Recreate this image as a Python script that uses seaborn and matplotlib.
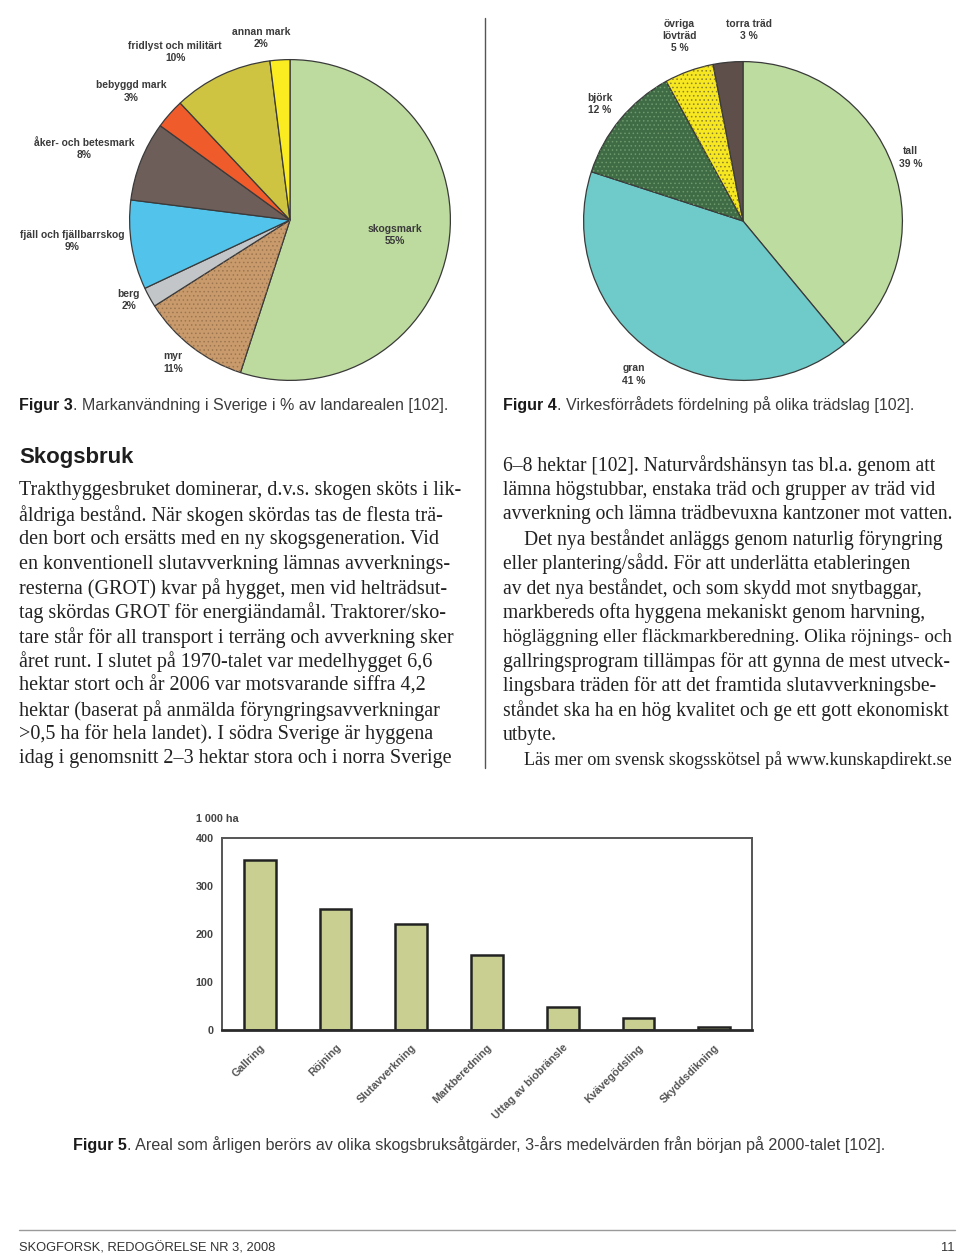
import matplotlib
matplotlib.use("Agg")
import matplotlib.pyplot as plt
import seaborn as sns
from matplotlib.lines import Line2D

# Figur 3 - markanvändning i Sverige (% av landarealen)
land_labels = ["skogsmark", "myr", "berg", "fjäll och fjällbarrskog",
               "åker- och betesmark", "bebyggd mark", "fridlyst och militärt", "annan mark"]
land_pct = [55, 11, 2, 9, 8, 3, 10, 2]

# Figur 4 - virkesförrådets fördelning på trädslag (%)
tree_labels = ["tall", "gran", "björk", "övriga\nlövträd", "torra träd"]
tree_pct = [39, 41, 12, 5, 3]

# Figur 5 - areal per år (1 000 ha)
measures = ["Gallring", "Röjning", "Slutavverkning", "Markberedning",
            "Uttag av biobränsle", "Kvävegödsling", "Skyddsdikning"]
area_kha = [355, 252, 220, 156, 48, 25, 6]
area_ticks = [0, 100, 200, 300, 400]

left_lines = [
    "Trakthyggesbruket dominerar, d.v.s. skogen sköts i lik-",
    "åldriga bestånd. När skogen skördas tas de flesta trä-",
    "den bort och ersätts med en ny skogsgeneration. Vid",
    "en konventionell slutavverkning lämnas avverknings-",
    "resterna (GROT) kvar på hygget, men vid helträdsut-",
    "tag skördas GROT för energiändamål. Traktorer/sko-",
    "tare står för all transport i terräng och avverkning sker",
    "året runt. I slutet på 1970-talet var medelhygget 6,6",
    "hektar stort och år 2006 var motsvarande siffra 4,2",
    "hektar (baserat på anmälda föryngringsavverkningar",
    ">0,5 ha för hela landet). I södra Sverige är hyggena",
    "idag i genomsnitt 2–3 hektar stora och i norra Sverige",
]
right_lines = [
    "6–8 hektar [102]. Naturvårdshänsyn tas bl.a. genom att",
    "lämna högstubbar, enstaka träd och grupper av träd vid",
    "avverkning och lämna trädbevuxna kantzoner mot vatten.",
    "Det nya beståndet anläggs genom naturlig föryngring",
    "eller plantering/sådd. För att underlätta etableringen",
    "av det nya beståndet, och som skydd mot snytbaggar,",
    "markbereds ofta hyggena mekaniskt genom harvning,",
    "högläggning eller fläckmarkberedning. Olika röjnings- och",
    "gallringsprogram tillämpas för att gynna de mest utveck-",
    "lingsbara träden för att det framtida slutavverkningsbe-",
    "ståndet ska ha en hög kvalitet och ge ett gott ekonomiskt",
    "utbyte.",
    "Läs mer om svensk skogsskötsel på www.kunskapdirekt.se",
]
right_indent = [3, 12]

sns.set_style("white")
SANS = ["Liberation Sans", "DejaVu Sans"]
SERIF = ["Liberation Serif", "DejaVu Serif"]
plt.rcParams["font.family"] = SANS
plt.rcParams["hatch.linewidth"] = 0.6

W, H = 960, 1260
fig = plt.figure(figsize=(W / 100, H / 100), dpi=100)
fig.patch.set_facecolor("white")
renderer = fig.canvas.get_renderer()


def fx(x):
    return x / W


def fy(y):
    return 1 - y / H


def add_ax(x, y, w, h):
    return fig.add_axes([fx(x), fy(y + h), w / W, h / H])


def draw_pie(cx, cy, r, values, labels, colors, hatches, hatch_cols, label_pos, sep):
    ax = add_ax(cx - r, cy - r, 2 * r, 2 * r)
    ax.pie(values, colors=colors, startangle=90, counterclock=False,
           wedgeprops=dict(edgecolor="#3a3a3a", linewidth=0.9))
    over, _ = ax.pie(values, colors=["none"] * len(values), startangle=90,
                     counterclock=False, hatch=hatches,
                     wedgeprops=dict(linewidth=0))
    for w, c in zip(over, hatch_cols):
        w.set_edgecolor(c)
        w.set_linewidth(0)
    ax.set_xlim(-1.01, 1.01)
    ax.set_ylim(-1.01, 1.01)
    ax.set_aspect("equal")
    for lab, v, (lx, ly) in zip(labels, values, label_pos):
        ax.text(lx, ly, f"{lab}\n{v}{sep}%", ha="center", va="center",
                fontsize=7.4, weight="bold", color="#3a3a3a", linespacing=1.3,
                clip_on=False, family=SANS)
    return ax


land_colors = ["#bddb9f", "#c99b6c", "#c3c6c9", "#52c4ec",
               "#6e5e59", "#ef5b2b", "#cfc441", "#faec20"]
land_hatch = ["", "....", "", "", "", "", "", ""]
land_hcol = ["none", "#9c7650", "none", "none", "none", "none", "none", "none"]
land_lpos = [(0.654, -0.093), (-0.728, -0.889), (-1.006, -0.50), (-1.358, -0.13),
             (-1.284, 0.444), (-0.988, 0.802), (-0.716, 1.049), (-0.179, 1.136)]
draw_pie(290, 220, 162, land_pct, land_labels, land_colors, land_hatch,
         land_hcol, land_lpos, "")

tree_colors = ["#bddca0", "#6ecbc9", "#3f6b45", "#f7e720", "#5e4f4a"]
tree_hatch = ["", "", "....", "....", ""]
tree_hcol = ["none", "none", "#6f9a6e", "#8a8030", "none"]
tree_lpos = [(1.05, 0.398), (-0.683, -0.963), (-0.90, 0.733),
             (-0.398, 1.161), (0.037, 1.199)]
draw_pie(743, 221, 161, tree_pct, tree_labels, tree_colors, tree_hatch,
         tree_hcol, tree_lpos, " ")

# bar chart
bx = add_ax(222, 838, 530, 192)
sns.barplot(x=measures, y=area_kha, color="#c9cf90", saturation=1,
            edgecolor="#222222", linewidth=1.8, width=0.42, ax=bx)
bx.set_ylim(0, 400)
bx.set_xlim(-0.5, len(measures) - 0.5)
bx.set_yticks(area_ticks)
bx.set_yticklabels([str(t) for t in area_ticks], fontsize=7.8, weight="bold",
                   color="#444444")
bx.set_xticks(range(len(measures)))
bx.set_xticklabels(measures, rotation=45, ha="right", rotation_mode="anchor",
                   fontsize=7.8, weight="bold", color="#555555")
bx.tick_params(axis="x", length=0, pad=9)
bx.tick_params(axis="y", length=0, pad=6)
bx.set_xticks([i + 0.5 for i in range(-1, len(measures))], minor=True)
bx.tick_params(axis="x", which="minor", length=3, color="#999999", direction="out")
bx.set_xlabel("")
bx.set_ylabel("")
for side in ["top", "right", "left"]:
    bx.spines[side].set_visible(True)
    bx.spines[side].set_color("#555555")
    bx.spines[side].set_linewidth(1.4)
bx.spines["bottom"].set_color("#2a2a2a")
bx.spines["bottom"].set_linewidth(2)
fig.text(fx(196), fy(819), "1 000 ha", fontsize=7.8, weight="bold",
         color="#444444", va="center", ha="left")


def caption(x, y, head, rest, size):
    t = fig.text(fx(x), fy(y), head, fontsize=size, weight="bold",
                 color="#1a1a1a", va="baseline")
    bb = t.get_window_extent(renderer)
    fig.text(bb.x1 / W, fy(y), rest, fontsize=size, color="#3c3c3c",
             va="baseline")


caption(19, 410, "Figur 3", ". Markanvändning i Sverige i % av landarealen [102].", 11.5)
caption(503, 410, "Figur 4", ". Virkesförrådets fördelning på olika trädslag [102].", 11.5)
caption(73, 1150, "Figur 5", ". Areal som årligen berörs av olika skogsbruksåtgärder, "
        "3-års medelvärden från början på 2000-talet [102].", 11.6)

fig.text(fx(19), fy(458), "Skogsbruk", fontsize=16, weight="bold",
         color="#1e1e1e", va="center")


def body_line(x, y, line, size, right_edge):
    t = fig.text(fx(x), fy(y), line, fontsize=size, color="#222222",
                 va="center", family=SERIF)
    w = t.get_window_extent(renderer).width
    if x + w > right_edge:
        # squeeze long lines into the column, as the typesetter did
        t.set_fontsize(size * (right_edge - x) / w)
    return t


for i, line in enumerate(left_lines):
    body_line(19, 491 + 24.35 * i, line, 14.5, 462)
for i, line in enumerate(right_lines):
    x0 = 524 if i in right_indent else 503
    body_line(x0, 466 + 24.5 * i, line, 14.1, 954)

fig.add_artist(Line2D([fx(485), fx(485)], [fy(18), fy(768)], color="#555555",
                      linewidth=1))
fig.add_artist(Line2D([fx(19), fx(955)], [fy(1230), fy(1230)], color="#9a9a9a",
                      linewidth=1))
fig.text(fx(19), fy(1248), "SKOGFORSK, REDOGÖRELSE NR 3, 2008", fontsize=9.3,
         color="#333333", va="center")
fig.text(fx(955), fy(1248), "11", fontsize=9.3, color="#333333",
         va="center", ha="right")

fig.savefig("out.png", dpi=100, facecolor="white")
